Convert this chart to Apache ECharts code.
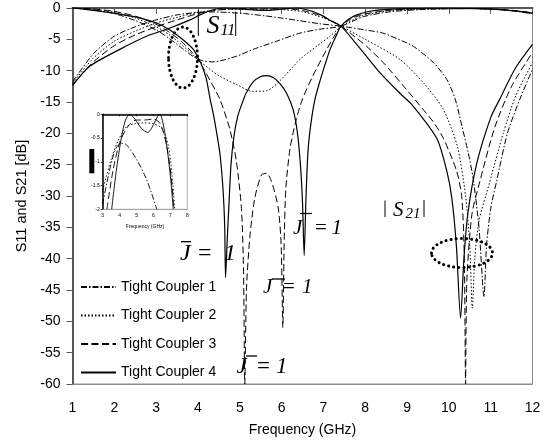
<!DOCTYPE html>
<html>
<head>
<meta charset="utf-8">
<script src="https://cdn.jsdelivr.net/npm/echarts@6/dist/echarts.min.js"></script>
<style>
  html, body { margin: 0; padding: 0; background: #fff; }
  #chart { width: 545px; height: 442px; }
</style>
</head>
<body>
<div id="chart"></div>
<script>
// Tight coupler responses, each point is [frequency GHz, magnitude dB]
const couplerNames = ['Tight Coupler 1', 'Tight Coupler 2', 'Tight Coupler 3', 'Tight Coupler 4'];
const xTicks = { min: 1, max: 12, step: 1 };
const yTicks = { min: -60, max: 0, step: 5 };
const insetXTicks = { min: 3, max: 8, step: 1 };
const insetYTicks = { min: -2, max: 0, step: 0.5 };

// |S21|
const tc1_s21 = [[1,-11.8],[1.5,-7.3],[2,-4.5],[2.5,-3],[3,-1.9],[3.5,-1.1],[4,-0.7],[4.3,-0.63],[4.7,-0.7],[5.2,-0.95],[5.6,-1.25],[6,-1.6],[6.4,-2],[6.9,-2.5],[7.42,-2.9],[8,-3.5],[8.42,-4],[8.9,-5.3],[9.15,-6.1],[9.63,-8.7],[9.95,-11.4],[10.15,-14.5],[10.31,-18.8],[10.46,-23],[10.58,-27.2],[10.72,-35],[10.84,-46.1],[10.9,-38],[11,-32],[11.14,-27.7],[11.4,-20],[11.7,-14.5],[12,-9.8]];
const tc2_s21 = [[1,-12],[1.5,-8],[2,-5.3],[2.5,-3.7],[3,-2.4],[3.5,-1.5],[4,-0.7],[4.5,-0.3],[5,-0.2],[5.5,-0.2],[6,-0.25],[6.5,-0.6],[7,-1.6],[7.42,-2.9],[8,-5],[8.83,-8.2],[9.4,-12],[9.86,-16.1],[10.2,-22],[10.4,-30],[10.5,-38],[10.56,-47.9],[10.62,-40],[10.72,-34],[10.98,-27.7],[11.3,-20],[11.6,-14],[12,-8.7]];
const tc3_s21 = [[1,-12.2],[1.5,-8.6],[2,-6],[2.5,-4.3],[3,-3],[3.5,-1.9],[4,-0.9],[4.5,-0.3],[5,-0.1],[5.5,-0.15],[6,-0.1],[6.5,-0.4],[7,-1.4],[7.42,-2.9],[7.64,-4],[8.03,-6.1],[8.43,-8.7],[8.91,-12.4],[9.31,-15.6],[9.63,-18.2],[9.87,-20.8],[10.19,-26.1],[10.31,-30.3],[10.37,-40],[10.4,-60],[10.43,-43.5],[10.55,-33],[10.74,-27.7],[11.1,-19],[11.5,-12.5],[12,-7.1]];
const tc4_s21 = [[1,-12.4],[1.41,-9.3],[2.13,-6.6],[2.77,-4.5],[3.33,-3.2],[3.81,-1.9],[4.05,-1.1],[4.3,-0.4],[4.6,0],[5.1,-0.2],[5.66,-0.4],[6.1,-0.1],[6.38,0],[6.76,-0.6],[7,-1.3],[7.17,-2],[7.42,-2.9],[7.87,-6.4],[8.35,-10.3],[8.83,-13.6],[9.14,-15.6],[9.71,-20.8],[9.95,-26],[10.07,-30.3],[10.18,-38],[10.28,-49.5],[10.36,-40],[10.45,-33],[10.66,-25],[11,-17.5],[11.22,-14.5],[11.6,-9.5],[12,-5.8]];

// |S11|
const tc1_s11 = [[1,0],[1.5,-0.3],[2,-0.9],[2.5,-2],[3,-3.5],[3.3,-4.8],[3.6,-6.3],[3.9,-7.8],[4.1,-8.4],[4.36,-8.6],[4.92,-7.7],[5.32,-6.6],[5.88,-5.3],[6.44,-4],[6.9,-3.4],[7.42,-2.9],[7.95,-1.4],[8.6,-0.6],[9.5,-0.2],[10.5,-0.1],[11.3,-0.3],[11.7,-0.6],[12,-0.9]];
const tc2_s11 = [[1,0],[1.5,-0.2],[2,-0.7],[2.5,-1.6],[3,-3],[3.3,-4.2],[3.6,-5.8],[3.9,-7.6],[4.1,-8.8],[4.5,-10.8],[4.92,-12.2],[5.3,-13.3],[5.65,-13.2],[5.96,-11.6],[6.44,-8.2],[6.84,-6.1],[7.16,-4.5],[7.42,-3],[7.9,-1.3],[8.5,-0.5],[9.2,-0.2],[10.5,-0.1],[11.3,-0.3],[11.7,-0.6],[12,-1]];
const tc3_s11 = [[1,0],[1.5,-0.15],[2,-0.55],[2.5,-1.3],[3,-2.6],[3.3,-3.8],[3.6,-5.3],[3.9,-7.4],[4.1,-9.3],[4.3,-11.7],[4.52,-14.5],[4.76,-19.3],[4.92,-24.5],[5.04,-32],[5.09,-42],[5.12,-60],[5.16,-45],[5.24,-36.6],[5.36,-30.3],[5.52,-26.6],[5.64,-26.4],[5.76,-27.7],[5.92,-31.9],[5.99,-38],[6.03,-51],[6.06,-38],[6.1,-29],[6.2,-22.5],[6.35,-17.8],[6.5,-14.5],[6.75,-10.8],[7.08,-6.6],[7.25,-4.6],[7.42,-2.9],[7.65,-1.8],[7.9,-1.1],[8.5,-0.4],[9.2,-0.15],[10.5,-0.1],[11.3,-0.25],[11.7,-0.5],[12,-0.8]];
const tc4_s11 = [[1,0],[1.4,-0.3],[1.73,-0.6],[2.1,-0.95],[2.53,-1.45],[3.01,-2.4],[3.33,-3.5],[3.65,-5.1],[3.89,-6.6],[4,-7.9],[4.1,-9.3],[4.2,-11.3],[4.29,-14.5],[4.37,-17],[4.45,-20],[4.53,-23.5],[4.6,-29],[4.64,-35],[4.66,-43],[4.7,-37],[4.74,-31.5],[4.79,-25],[4.86,-20.5],[4.95,-17.3],[5.04,-15.5],[5.16,-13.5],[5.32,-11.8],[5.48,-11],[5.64,-10.8],[5.8,-11.1],[5.95,-12],[6.12,-13.6],[6.28,-16.3],[6.38,-20],[6.45,-25],[6.5,-31],[6.54,-39.5],[6.58,-31],[6.63,-23],[6.7,-18.5],[6.8,-14.5],[6.92,-11.6],[7.04,-9],[7.16,-6.6],[7.3,-4.5],[7.42,-2.9],[7.6,-1.8],[7.8,-1.1],[8.05,-0.6],[8.35,-0.3],[9,-0.1],[10,0],[10.8,-0.1],[11.3,-0.3],[11.7,-0.55],[12,-0.8]];

// passband |S21| detail (inset)
const inset_tc1 = [[3,-1.9],[3.24,-1.45],[3.6,-0.9],[3.85,-0.68],[4.1,-0.61],[4.4,-0.64],[5,-0.95],[5.6,-1.38],[6.2,-2]];
const inset_tc2 = [[3,-1.6],[3.5,-0.95],[3.92,-0.55],[4.41,-0.26],[4.9,-0.2],[5.5,-0.18],[6,-0.2],[6.5,-0.3],[6.9,-0.7],[7.15,-1.5],[7.25,-2]];
const inset_tc3 = [[3.25,-2],[3.6,-1.2],[4,-0.6],[4.5,-0.25],[5,-0.12],[5.5,-0.12],[6,-0.1],[6.4,-0.2],[6.8,-0.7],[7.1,-1.5],[7.2,-2]];
const inset_tc4 = [[3.53,-2],[3.8,-1.2],[4.1,-0.5],[4.35,-0.12],[4.6,0],[4.9,-0.1],[5.3,-0.3],[5.66,-0.38],[6,-0.22],[6.25,-0.04],[6.38,0],[6.6,-0.25],[6.8,-0.7],[7,-1.3],[7.17,-2]];

const SANS = '"Liberation Sans", Arial, sans-serif';
const SERIF = '"Liberation Serif", "Times New Roman", serif';

// line patterns per coupler: dash-dot, dotted, dashed, solid
const patterns = [[6, 2, 1.5, 2], [1.5, 2], [7, 3.5], 'solid'];

const mainSets = [[tc1_s21, tc1_s11], [tc2_s21, tc2_s11], [tc3_s21, tc3_s11], [tc4_s21, tc4_s11]];
const insetSets = [inset_tc1, inset_tc2, inset_tc3, inset_tc4];

const series = [];
couplerNames.forEach((name, i) => {
  const ls = { color: '#000', width: i === 3 ? 1.2 : 1, type: patterns[i] };
  mainSets[i].forEach(d => series.push({
    name, type: 'line', data: d, xAxisIndex: 0, yAxisIndex: 0,
    symbol: 'none', smooth: 0.25, lineStyle: ls, itemStyle: { color: '#000' },
    emphasis: { disabled: true }
  }));
  series.push({
    name, type: 'line', data: insetSets[i], xAxisIndex: 2, yAxisIndex: 1,
    symbol: 'none', smooth: 0.3, lineStyle: { color: '#000', width: 0.9, type: patterns[i] },
    itemStyle: { color: '#000' }, emphasis: { disabled: true }
  });
});

const chart = echarts.init(document.getElementById('chart'), null, { renderer: 'canvas' });

const option = {
  animation: false,
  backgroundColor: '#fff',
  grid: [
    { left: 72.5, top: 8, width: 460, height: 380, show: true, borderColor: '#8c8c8c', borderWidth: 1 },
    { left: 102.7, top: 114.3, width: 84.6, height: 95, show: true, borderColor: '#9a9a9a', borderWidth: 0.8, backgroundColor: '#fff' }
  ],
  xAxis: [
    {
      gridIndex: 0, type: 'value', min: xTicks.min, max: xTicks.max, interval: xTicks.step, position: 'bottom',
      axisLine: { show: true, onZero: false, lineStyle: { color: '#8c8c8c', width: 1 } },
      axisTick: { show: false }, splitLine: { show: false },
      axisLabel: { fontSize: 14, margin: 17, color: '#000', fontFamily: SANS },
      name: 'Frequency (GHz)', nameLocation: 'middle', nameGap: 39,
      nameTextStyle: { fontSize: 14, color: '#000', fontFamily: SANS }
    },
    {
      gridIndex: 0, type: 'value', min: xTicks.min, max: xTicks.max, interval: xTicks.step, position: 'top',
      axisLine: { show: true, onZero: false, lineStyle: { color: '#595959', width: 2 } },
      axisTick: { show: true, inside: true, length: 6, lineStyle: { color: '#595959', width: 1 } },
      axisLabel: { show: false }, splitLine: { show: false }
    },
    {
      gridIndex: 1, type: 'value', min: insetXTicks.min, max: insetXTicks.max, interval: insetXTicks.step, position: 'bottom',
      axisLine: { show: true, onZero: false, lineStyle: { color: '#9a9a9a', width: 0.8 } },
      axisTick: { show: false }, splitLine: { show: false },
      axisLabel: { fontSize: 5, margin: 4, color: '#000', fontFamily: SANS },
      name: 'Frequency (GHz)', nameLocation: 'middle', nameGap: 15,
      nameTextStyle: { fontSize: 5, color: '#000', fontFamily: SANS }
    },
    {
      gridIndex: 1, type: 'value', min: insetXTicks.min, max: insetXTicks.max, interval: insetXTicks.step, position: 'top',
      axisLine: { show: true, onZero: false, lineStyle: { color: '#000', width: 1.5 } },
      axisTick: { show: true, inside: true, length: 2, lineStyle: { color: '#000', width: 0.8 } },
      axisLabel: { show: false }, splitLine: { show: false }
    }
  ],
  yAxis: [
    {
      gridIndex: 0, type: 'value', min: yTicks.min, max: yTicks.max, interval: yTicks.step,
      axisLine: { show: true, onZero: false, lineStyle: { color: '#595959', width: 2 } },
      axisTick: { show: true, length: 6, lineStyle: { color: '#595959', width: 1 } },
      splitLine: { show: false },
      axisLabel: { fontSize: 14, margin: 12, color: '#000', fontFamily: SANS },
      name: 'S11 and S21 [dB]', nameLocation: 'middle', nameGap: 40, nameRotate: 90,
      nameTextStyle: { fontSize: 14.5, color: '#000', fontFamily: SANS }
    },
    {
      gridIndex: 1, type: 'value', min: insetYTicks.min, max: insetYTicks.max, interval: insetYTicks.step,
      axisLine: { show: true, onZero: false, lineStyle: { color: '#000', width: 1.5 } },
      axisTick: { show: true, length: 2, lineStyle: { color: '#000', width: 0.8 } },
      splitLine: { show: false },
      axisLabel: { fontSize: 5, margin: 3, color: '#000', fontFamily: SANS }
    }
  ],
  legend: {
    data: couplerNames, orient: 'vertical', left: 80, top: 280,
    itemWidth: 35, itemHeight: 14, itemGap: 14.5, padding: 0, selectedMode: false,
    itemStyle: { opacity: 0 },
    textStyle: { fontSize: 14, color: '#000', fontFamily: SANS }
  },
  series
};
chart.setOption(option);

// ---- annotations ----
function txt(x, baseline, str, size, italic) {
  return {
    type: 'text', z: 100,
    style: {
      text: str, x, y: baseline - 0.35 * size, fill: '#000',
      fontSize: size, fontFamily: SERIF, fontStyle: italic ? 'italic' : 'normal',
      align: 'left', verticalAlign: 'middle'
    }
  };
}
function seg(x1, y1, x2, y2, w) {
  return { type: 'line', z: 100, shape: { x1, y1, x2, y2 }, style: { stroke: '#000', lineWidth: w || 1 } };
}
function jLabel(xJ, xEq, xOne, base, size, bar) {
  return [
    txt(xJ, base, 'J', size, true),
    txt(xEq, base, '=', size, false),
    txt(xOne, base, '1', size, true),
    seg(bar[0], bar[2], bar[1], bar[2], 1.3)
  ];
}
function dottedEllipse(cx, cy, rx, ry) {
  return {
    type: 'ellipse', z: 100, shape: { cx, cy, rx, ry },
    style: { fill: 'none', stroke: '#000', lineWidth: 3, lineDash: [0.1, 5], lineCap: 'round' }
  };
}

const graphics = [
  // |S11|
  seg(198.3, 10, 198.3, 36), seg(235.7, 11.5, 235.7, 36),
  txt(206.5, 35, 'S', 26, true), txt(220.5, 36, '11', 16, true),
  // |S21|
  seg(385, 200.5, 385, 217), seg(424, 200, 424, 217),
  txt(393, 217.5, 'S', 21, true), txt(405.5, 219, '21', 15, true),
  ...jLabel(180, 198, 224, 262.5, 24, [181, 191, 241.7]),
  ...jLabel(293, 315, 331.5, 235.5, 21, [300, 312, 213.5]),
  ...jLabel(263, 283, 302, 294.5, 21, [271.7, 285, 279]),
  ...jLabel(236.5, 257, 276, 375, 23, [246, 257, 356]),
  dottedEllipse(183, 57.5, 14.5, 30.5),
  dottedEllipse(462, 253, 30.5, 14.5),
  // blacked-out inset axis title
  { type: 'rect', z: 100, shape: { x: 89.3, y: 149, width: 5, height: 24.3 }, style: { fill: '#000' } }
];
chart.setOption({ graphic: graphics });
</script>
</body>
</html>
